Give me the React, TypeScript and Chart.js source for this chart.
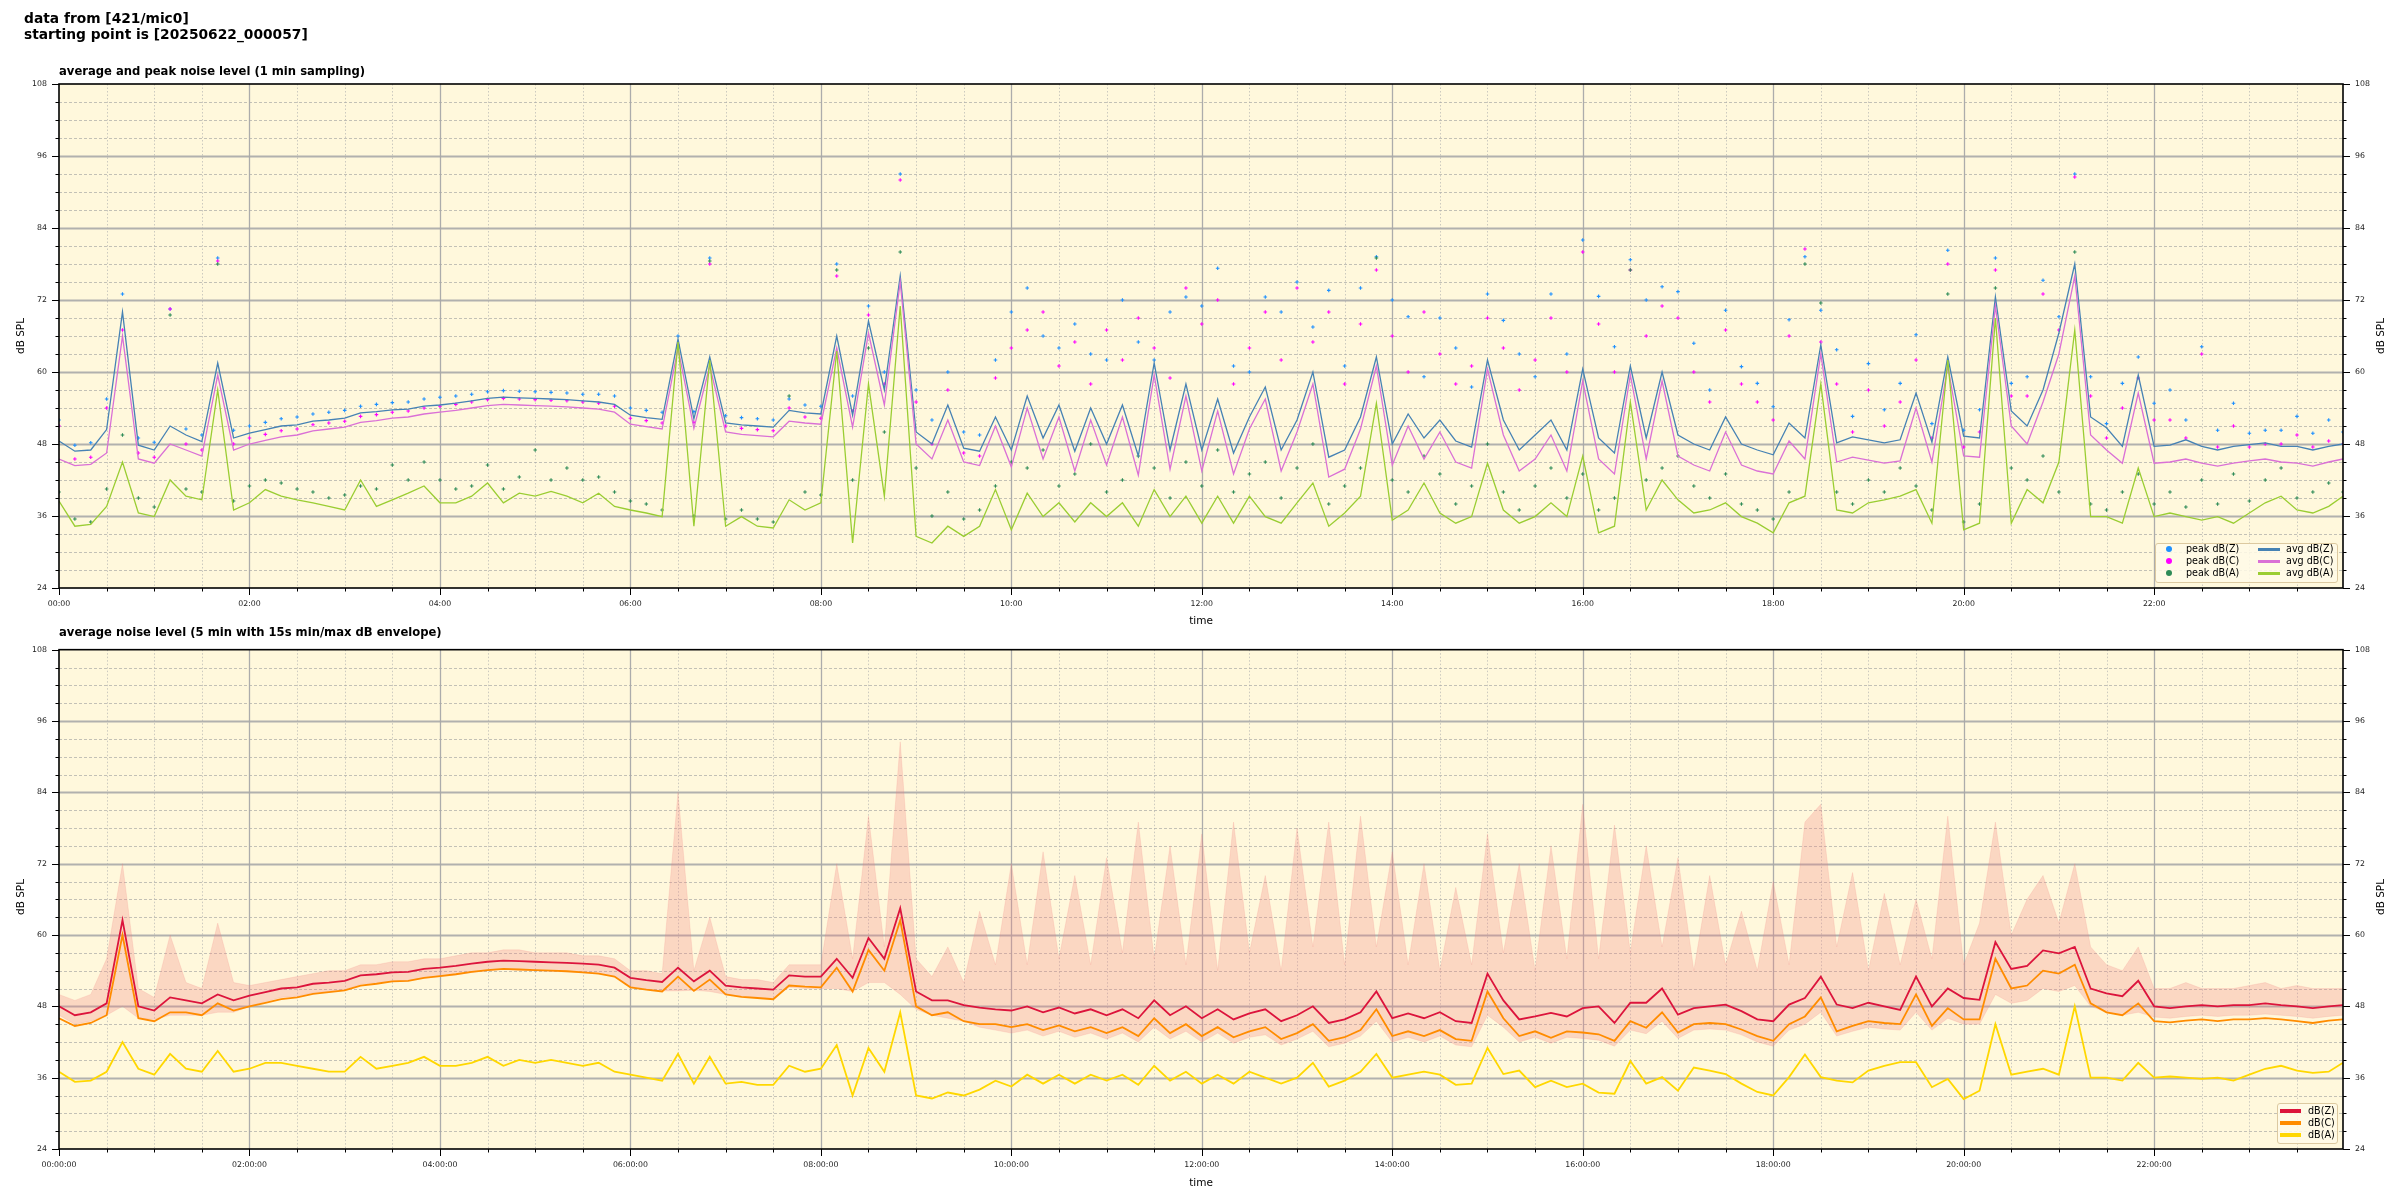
import React, { useEffect, useRef } from 'react';
import { Chart, registerables } from 'chart.js';

Chart.register(...registerables);
Chart.defaults.font.family = '"DejaVu Sans", sans-serif';

// ---------- sampling (10 min steps, last point 23:59) ----------
const STEP_MIN = 10;
const MINUTES = Array.from({ length: 145 }, (_, i) => Math.min(i * STEP_MIN, 1439));
const X_MAX = 1439;
const X_TICKS = Array.from({ length: 48 }, (_, i) => i * 30);
const Y_MIN = 24;
const Y_MAX = 108;
const Y_TICKS = Array.from({ length: 29 }, (_, i) => 24 + i * 3);

// ---------- top panel: 1 min averages (read at 10 min spacing) ----------
const AVG_Z = [
  48.5, 46.8, 47.0, 50.4, 70.0, 47.8, 47.0, 51.0, 49.5, 48.4,
  61.5, 49.0, 49.8, 50.4, 51.0, 51.2, 51.8, 52.0, 52.3, 53.2,
  53.4, 53.7, 53.8, 54.3, 54.5, 54.8, 55.2, 55.6, 55.8, 55.7,
  55.6, 55.5, 55.4, 55.2, 55.0, 54.6, 52.8, 52.4, 52.1, 65.5,
  52.2, 62.5, 51.5, 51.2, 51.0, 50.8, 53.6, 53.2, 53.0, 66.0,
  52.8, 68.5, 57.0, 76.0, 50.0, 48.0, 54.5, 47.3, 46.8, 52.5,
  47.0, 56.0, 49.0, 54.5, 46.8, 54.0, 48.0, 54.5, 46.0, 61.5,
  47.0, 58.0, 47.0, 55.5, 46.5, 52.5, 57.5, 47.0, 52.0, 60.0,
  45.8, 47.0, 52.5, 62.5, 48.0, 53.0, 49.0, 52.0, 48.5, 47.5,
  62.0, 52.0, 47.0, 49.5, 52.0, 47.0, 60.5, 49.0, 46.5, 61.0,
  49.0, 60.0, 49.5, 48.0, 47.0, 52.5, 48.0, 47.0, 46.2, 51.5,
  49.0, 64.5, 48.2, 49.2, 48.7, 48.2, 48.7, 56.5, 48.3, 62.5,
  49.3, 49.0, 72.5, 53.5, 51.0, 57.0, 66.5, 78.0, 52.5, 50.7,
  47.6, 59.5, 47.6, 47.8, 48.7, 47.6, 47.0, 47.6, 47.9, 48.2,
  47.6, 47.6, 47.0, 47.6, 48.0,
];
const AVG_C = [
  45.5, 44.4, 44.6, 46.5, 66.0, 45.5, 44.8, 48.0, 47.0, 46.0,
  59.5, 47.0, 48.0, 48.6, 49.2, 49.5, 50.2, 50.5, 50.8, 51.6,
  51.9, 52.3, 52.5, 53.0, 53.3, 53.6, 54.0, 54.4, 54.6, 54.5,
  54.4, 54.3, 54.2, 54.0, 53.8, 53.3, 51.3, 50.9, 50.5, 64.0,
  50.6, 61.0, 50.0, 49.6, 49.4, 49.2, 51.8, 51.5, 51.3, 64.0,
  50.8, 66.5, 54.5, 75.0, 48.0, 45.5, 52.0, 45.0, 44.4, 51.0,
  44.2, 54.0, 45.5, 52.5, 43.5, 52.0, 44.5, 52.5, 42.8, 59.5,
  43.8, 56.0, 43.5, 53.5, 43.0, 50.5, 55.5, 43.5, 50.0, 58.0,
  42.5, 43.8, 50.5, 61.0, 44.5, 51.0, 45.5, 50.0, 45.0, 44.0,
  60.5, 49.5, 43.5, 45.5, 49.5, 43.5, 58.5, 45.5, 43.0, 59.5,
  45.5, 58.5, 46.0, 44.5, 43.5, 50.0, 44.5, 43.5, 43.0, 48.5,
  45.5, 63.0, 45.0, 45.8, 45.3, 44.8, 45.2, 54.0, 45.0, 61.0,
  46.0, 45.8, 71.0, 51.0, 48.0, 55.0, 63.0, 76.0, 49.5, 47.0,
  44.8, 56.5, 44.8, 45.0, 45.5, 44.8, 44.3, 44.8, 45.2, 45.5,
  45.0, 44.8, 44.3, 45.0, 45.5,
];
const AVG_A = [
  38.5, 34.3, 34.6, 37.6, 45.0, 36.5, 35.9, 42.0, 39.3, 38.7,
  57.0, 37.0, 38.2, 40.4, 39.3, 38.7, 38.2, 37.6, 37.0, 42.0,
  37.6, 38.7, 39.8, 41.0, 38.2, 38.2, 39.3, 41.5, 38.2, 39.8,
  39.3, 40.1, 39.3, 38.2, 39.8, 37.6, 37.0, 36.5, 35.9, 65.0,
  34.3, 62.0, 34.3, 35.9, 34.3, 34.0, 38.7, 37.0, 38.2, 63.5,
  31.5, 58.0, 39.3, 71.0, 32.6, 31.5, 34.3, 32.6, 34.3, 40.4,
  33.7, 39.8, 35.9, 38.2, 35.0, 38.2, 35.9, 38.2, 34.3, 40.4,
  35.9, 39.3, 34.8, 39.3, 34.8, 39.3, 35.9, 34.8, 38.2, 41.5,
  34.3, 36.5, 39.3, 54.8, 35.3, 37.0, 41.5, 36.5, 34.8, 35.9,
  44.8, 37.0, 34.8, 35.9, 38.2, 35.9, 46.0, 33.2, 34.3, 55.0,
  37.0, 42.0, 38.7, 36.5, 37.0, 38.2, 35.9, 34.8, 33.2, 38.2,
  39.3, 58.0, 37.0, 36.5, 38.2, 38.7, 39.3, 40.4, 34.8, 62.0,
  33.7, 34.8, 69.0, 34.8, 40.4, 38.2, 45.0, 67.0, 35.9, 35.9,
  34.8, 44.0, 35.9, 36.5, 35.9, 35.3, 35.9, 34.8, 36.5, 38.2,
  39.3, 37.0, 36.5, 37.6, 39.3,
];
const PEAK_Z = [
  52.0, 47.8, 48.2, 55.5, 73.0, 49.0, 48.3, 70.5, 50.5, 49.5,
  79.0, 50.3, 51.0, 51.6, 52.2, 52.5, 53.0, 53.3, 53.6, 54.3,
  54.6, 54.9, 55.0, 55.5, 55.8, 56.0, 56.3, 56.7, 56.9, 56.8,
  56.7, 56.6, 56.5, 56.3, 56.3, 56.0, 54.0, 53.6, 53.3, 66.0,
  53.4, 79.0, 52.7, 52.4, 52.2, 52.0, 55.5, 54.5, 54.3, 78.0,
  56.0, 71.0, 60.0, 93.0, 57.0, 52.0, 60.0, 50.0, 49.5, 62.0,
  70.0, 74.0, 66.0, 64.0, 68.0, 63.0, 62.0, 72.0, 65.0, 62.0,
  70.0, 72.5, 71.0, 77.3, 61.0, 60.0, 72.5, 70.0, 75.0, 67.5,
  73.6, 61.0, 74.0, 79.2, 72.0, 69.2, 59.2, 69.0, 64.0, 57.5,
  73.0, 68.6, 63.0, 59.2, 73.0, 63.0, 82.0, 72.6, 64.2, 78.7,
  72.0, 74.2, 73.4, 64.8, 57.0, 70.3, 60.9, 58.1, 54.2, 68.7,
  79.2, 70.3, 63.7, 52.6, 61.4, 53.7, 58.1, 66.2, 51.4, 80.3,
  50.3, 53.7, 79.0, 58.1, 59.2, 75.3, 69.2, 93.0, 59.2, 51.4,
  58.1, 62.5, 54.8, 57.0, 52.0, 64.2, 50.3, 54.8, 49.8, 50.3,
  50.3, 52.6, 49.8, 52.0, 50.0,
];
const PEAK_C = [
  51.0, 45.5, 45.8, 54.0, 67.0, 46.5, 45.8, 70.5, 48.0, 47.0,
  78.5, 48.0, 49.0, 49.6, 50.2, 50.5, 51.2, 51.5, 51.8, 52.6,
  52.9, 53.3, 53.5, 54.0, 54.3, 54.6, 55.0, 55.4, 55.6, 55.5,
  55.4, 55.3, 55.2, 55.0, 54.8, 54.3, 52.3, 51.9, 51.5, 64.5,
  51.6, 78.0, 51.0, 50.6, 50.4, 50.2, 54.0, 52.5, 52.3, 76.0,
  53.5, 69.5, 58.0, 92.0, 55.0, 48.0, 57.0, 46.5, 46.0, 59.0,
  64.0, 67.0, 70.0, 61.0, 65.0, 58.0, 67.0, 62.0, 69.0, 64.0,
  59.0, 74.0, 68.0, 72.0, 58.0, 64.0, 70.0, 62.0, 74.0, 65.0,
  70.0, 58.0, 68.0, 77.0, 66.0, 60.0, 70.0, 63.0, 58.0, 61.0,
  69.0, 64.0, 57.0, 62.0, 69.0, 60.0, 80.0, 68.0, 60.0, 77.0,
  66.0, 71.0, 69.0, 60.0, 55.0, 67.0, 58.0, 55.0, 52.0, 66.0,
  80.5, 65.0, 58.0, 50.0, 57.0, 51.0, 55.0, 62.0, 49.0, 78.0,
  47.5, 50.0, 77.0, 56.0, 56.0, 73.0, 67.0, 92.5, 56.0, 49.0,
  54.0, 59.0, 52.0, 52.0, 49.0, 63.0, 47.5, 51.0, 47.5, 48.0,
  48.0, 49.5, 47.5, 48.5, 48.0,
];
const PEAK_A = [
  40.0, 35.5, 35.0, 40.5, 49.5, 39.0, 37.5, 69.5, 40.5, 40.0,
  78.0, 38.5, 41.0, 42.0, 41.5, 40.5, 40.0, 39.0, 39.5, 41.0,
  40.5, 44.5, 42.0, 45.0, 42.0, 40.5, 41.0, 44.5, 40.5, 42.5,
  47.0, 42.0, 44.0, 42.0, 42.5, 40.0, 38.5, 38.0, 37.0, 64.0,
  36.0, 78.5, 35.5, 37.0, 35.5, 35.0, 56.0, 40.0, 39.5, 77.0,
  42.0, 64.0, 50.0, 80.0, 44.0, 36.0, 40.0, 35.5, 37.0, 41.0,
  45.0, 44.0, 47.0, 41.0, 43.0, 48.0, 40.0, 42.0, 46.0, 44.0,
  39.0, 45.0, 41.0, 47.0, 40.0, 43.0, 45.0, 39.0, 44.0, 48.0,
  38.0, 41.0, 44.0, 79.0, 42.0, 40.0, 46.0, 43.0, 38.0, 41.0,
  48.0, 40.0, 37.0, 41.0, 44.0, 39.0, 43.0, 37.0, 39.0, 77.0,
  42.0, 44.0, 46.0, 41.0, 39.0, 43.0, 38.0, 37.0, 35.5, 40.0,
  78.0, 71.5, 40.0, 38.0, 42.0, 40.0, 44.0, 41.0, 37.0, 73.0,
  35.0, 38.0, 74.0, 44.0, 42.0, 46.0, 40.0, 80.0, 38.0, 37.0,
  40.0, 43.0, 38.0, 40.0, 37.5, 42.0, 38.0, 43.0, 38.5, 42.0,
  44.0, 39.0, 40.0, 41.5, 40.0,
];

// ---------- bottom panel: 5 min averages + 15 s min/max envelope ----------
const BOT_Z = [
  48.0, 46.5, 47.0, 48.5, 62.5, 48.0, 47.3, 49.5, 49.0, 48.5,
  50.0, 49.0, 49.8, 50.4, 51.0, 51.2, 51.8, 52.0, 52.3, 53.2,
  53.4, 53.7, 53.8, 54.3, 54.5, 54.8, 55.2, 55.5, 55.7, 55.6,
  55.5, 55.4, 55.3, 55.2, 55.0, 54.5, 52.8, 52.4, 52.1, 54.5,
  52.2, 54.0, 51.5, 51.2, 51.0, 50.8, 53.2, 53.0, 53.0, 56.0,
  52.8, 59.5, 56.0, 64.5, 50.5, 49.0, 49.0, 48.2, 47.8, 47.5,
  47.3, 48.0, 47.0, 47.8, 46.8, 47.5, 46.5, 47.5, 46.0, 49.0,
  46.5, 48.0, 46.0, 47.5, 45.8, 46.8, 47.5, 45.5, 46.5, 48.0,
  45.2, 45.8, 47.0, 50.5, 46.0, 46.8, 46.0, 47.0, 45.5, 45.2,
  53.5, 49.0, 45.8, 46.3, 46.9, 46.3, 47.7, 48.0, 45.2, 48.6,
  48.6, 51.0, 46.6, 47.7, 48.0, 48.3, 47.2, 45.8, 45.5, 48.3,
  49.4, 53.0, 48.3, 47.7, 48.6, 48.0, 47.4, 53.0, 48.0, 51.0,
  49.4, 49.1, 58.8, 54.3, 54.8, 57.4, 56.9, 58.0, 51.0, 50.2,
  49.7, 52.3, 48.0, 47.7, 48.0, 48.2, 48.0, 48.2, 48.2, 48.5,
  48.2, 48.0, 47.7, 48.0, 48.2,
];
const BOT_C = [
  46.0, 44.7, 45.2, 46.5, 60.0, 46.0, 45.5, 47.0, 47.0, 46.5,
  48.5, 47.3, 48.0, 48.6, 49.2, 49.5, 50.1, 50.4, 50.7, 51.5,
  51.8, 52.2, 52.3, 52.8, 53.1, 53.4, 53.8, 54.1, 54.3, 54.2,
  54.1, 54.0, 53.9, 53.7, 53.5, 53.0, 51.2, 50.8, 50.5, 53.0,
  50.6, 52.5, 50.0, 49.6, 49.4, 49.2, 51.5, 51.3, 51.2, 54.5,
  50.5, 57.5, 54.0, 62.5, 48.0, 46.5, 47.0, 45.5, 45.0, 45.0,
  44.5, 45.0, 44.0, 44.8, 43.8, 44.5, 43.5, 44.5, 43.0, 46.0,
  43.5, 45.0, 43.0, 44.5, 42.8, 43.8, 44.5, 42.5, 43.5, 45.0,
  42.2, 42.8, 44.0, 47.5, 43.0, 43.8, 43.0, 44.0, 42.5, 42.2,
  50.5, 46.0, 43.0, 43.8, 42.7, 43.8, 43.6, 43.3, 42.2, 45.5,
  44.4, 47.0, 43.6, 45.0, 45.2, 45.0, 44.1, 43.0, 42.2, 45.0,
  46.3, 49.5, 43.8, 44.7, 45.5, 45.2, 45.0, 50.0, 44.7, 47.7,
  45.8, 45.8, 56.0, 51.0, 51.5, 54.0, 53.5, 55.0, 48.5, 47.0,
  46.5, 48.5, 45.5, 45.3, 45.6, 45.8, 45.5, 45.8, 45.8, 46.0,
  45.8, 45.5, 45.2, 45.6, 45.8,
];
const BOT_A = [
  37.0, 35.3, 35.5, 37.0, 42.0, 37.5, 36.5, 40.0, 37.5, 37.0,
  40.5, 37.0, 37.5, 38.5, 38.5, 38.0, 37.5, 37.0, 37.0, 39.5,
  37.5, 38.0, 38.5, 39.5, 38.0, 38.0, 38.5, 39.5, 38.0, 39.0,
  38.5, 39.0, 38.5, 38.0, 38.5, 37.0, 36.5, 36.0, 35.5, 40.0,
  35.0, 39.5, 35.0, 35.3, 34.8, 34.8, 38.0, 37.0, 37.5, 41.5,
  33.0, 41.0, 37.0, 47.0, 33.0, 32.5, 33.5, 33.0, 34.0, 35.5,
  34.5, 36.5, 35.0, 36.5, 35.0, 36.5, 35.5, 36.5, 34.8, 38.0,
  35.5, 37.0, 35.0, 36.5, 35.0, 37.0, 36.0, 35.0, 36.0, 38.5,
  34.5, 35.5, 37.0, 40.0, 36.0, 36.5, 37.0, 36.5, 34.8, 35.0,
  41.0, 36.6, 37.2, 34.4, 35.5, 34.4, 35.0, 33.5, 33.3, 38.8,
  35.0, 36.1, 33.8, 37.7, 37.2, 36.6, 35.0, 33.6, 33.0, 36.1,
  39.9, 36.1, 35.5, 35.2, 37.2, 38.0, 38.6, 38.6, 34.4, 35.8,
  32.4, 33.8, 45.0, 36.5, 37.0, 37.5, 36.5, 48.0, 36.0, 36.0,
  35.5, 38.5, 36.0, 36.2, 36.0, 35.8, 36.0, 35.5, 36.5, 37.5,
  38.0, 37.2, 36.8, 37.0, 38.5,
];
const ENV_MAX = [
  50, 49, 50, 56, 72, 51, 49.5, 60, 52, 51,
  62, 52, 51.5, 52, 52.5, 53, 53.5, 54, 54, 55,
  55, 55.5, 55.5, 56, 56, 56.5, 57, 57, 57.5, 57.5,
  57, 57, 57, 56.5, 56.5, 56, 54, 54, 53.5, 84,
  54, 63, 53, 52.5, 52.5, 52, 55, 55, 55, 72,
  56, 80, 58, 92.5, 56, 53, 58, 52, 64, 55,
  72, 55, 74, 56, 70, 55, 73, 57, 79, 56,
  75, 55, 77, 54, 79, 57, 70, 54, 78, 58,
  79, 55, 80, 58, 74, 55, 72, 54, 68, 55,
  77, 57, 72, 54, 75, 56, 82, 56, 78.5, 57,
  75, 58, 73, 54, 70, 55, 64, 54, 69, 55,
  79, 82, 58, 70.5, 54, 67, 55, 66, 56, 80,
  55, 62, 79, 60, 66, 70, 62, 72, 58, 55,
  54, 58, 51, 51, 52, 51, 51, 51, 51.5, 52,
  51, 51.5, 51, 51, 51,
];
const ENV_MIN = [
  46.5, 45, 45.5, 46.5, 48, 46, 45.8, 46.5, 46.5, 46.5,
  47, 47, 48, 48.8, 49.5, 49.7, 50.3, 50.5, 50.8, 51.7,
  52, 52.2, 52.3, 52.8, 53, 53.3, 53.7, 54, 54.2, 54.1,
  54, 53.9, 53.8, 53.7, 53.5, 53, 51.3, 50.9, 50.6, 50.6,
  50.7, 50.5, 50, 49.7, 49.5, 49.3, 51.2, 51, 51, 51,
  50.5, 52, 52, 50, 47.5, 46.5, 46, 45.5, 44.5, 44,
  43.5, 44, 43, 43.8, 42.8, 43.5, 42.5, 43.5, 42, 44.5,
  42.5, 43.8, 42, 43.5, 41.8, 42.8, 43.2, 41.5, 42.5, 43.8,
  41.2, 41.8, 43, 45.5, 42, 42.8, 42, 43, 41.5, 41.2,
  46.5, 44.5, 42, 42.8, 41.8, 42.8, 42.6, 42.3, 41.3, 44,
  43.4, 45.5, 42.6, 44, 44.2, 44, 43.2, 42, 41.3, 44,
  45, 47, 43, 43.8, 44.5, 44.2, 44, 47, 44, 46,
  45, 45, 50, 48.5, 49, 51, 50.5, 51.5, 48, 47,
  46.5, 47, 46.2, 46, 46.3, 46.5, 46.3, 46.5, 46.5, 46.7,
  46.5, 46.3, 46, 46.3, 46.5,
];

// ---------- styling ----------
const PLOT_BG = '#fff8dc';
const COL = {
  avgZ: '#4682b4', avgC: '#da70d6', avgA: '#9acd32',
  pkZ: '#1e90ff', pkC: '#ff00ff', pkA: '#2e8b57',
  z: '#dc143c', c: '#ff8c00', a: '#ffd700', env: 'rgba(240,128,128,0.28)',
};
const FONT = '"DejaVu Sans", sans-serif';

const pts = (arr: number[]) => arr.map((y, i) => ({ x: MINUTES[i], y }));
const hh = (v: number) => String(Math.floor(v / 60)).padStart(2, '0');

const decor = {
  id: 'decor',
  beforeDraw(chart: any) {
    const { ctx, chartArea: a } = chart;
    const xs = chart.scales.x;
    const ys = chart.scales.y;
    ctx.save();
    ctx.fillStyle = PLOT_BG;
    ctx.fillRect(a.left, a.top, a.right - a.left, a.bottom - a.top);
    for (const v of Y_TICKS) {
      const py = Math.round(ys.getPixelForValue(v)) + 0.5;
      if (py <= a.top + 1 || py >= a.bottom - 1) continue;
      const major = v % 12 === 0;
      ctx.beginPath();
      ctx.setLineDash(major ? [] : [3, 2]);
      ctx.lineWidth = major ? 1.8 : 0.8;
      ctx.strokeStyle = major ? 'rgba(168,168,168,0.9)' : 'rgba(160,160,160,0.8)';
      ctx.moveTo(a.left, py);
      ctx.lineTo(a.right, py);
      ctx.stroke();
    }
    for (const v of X_TICKS) {
      const px = Math.round(xs.getPixelForValue(v)) + 0.5;
      if (px <= a.left + 1) continue;
      const major = v % 120 === 0;
      ctx.beginPath();
      ctx.setLineDash(major ? [] : [1.5, 2]);
      ctx.lineWidth = major ? 1.3 : 0.8;
      ctx.strokeStyle = major ? 'rgba(168,168,168,0.95)' : 'rgba(175,175,175,0.8)';
      ctx.moveTo(px, a.top);
      ctx.lineTo(px, a.bottom);
      ctx.stroke();
    }
    ctx.restore();
  },
  afterDraw(chart: any) {
    const { ctx, chartArea: a } = chart;
    const xs = chart.scales.x;
    const ys = chart.scales.y;
    ctx.save();
    ctx.setLineDash([]);
    ctx.strokeStyle = '#000';
    ctx.lineWidth = 1;
    ctx.beginPath();
    for (const v of Y_TICKS) {
      const py = Math.round(ys.getPixelForValue(v)) + 0.5;
      const len = v % 12 === 0 ? 7 : 3.5;
      ctx.moveTo(a.left - len, py);
      ctx.lineTo(a.left, py);
      ctx.moveTo(a.right, py);
      ctx.lineTo(a.right + len, py);
    }
    for (const v of X_TICKS) {
      const px = Math.round(xs.getPixelForValue(v)) + 0.5;
      const len = v % 120 === 0 ? 7 : 3.5;
      ctx.moveTo(px, a.bottom);
      ctx.lineTo(px, a.bottom + len);
    }
    ctx.stroke();
    ctx.lineWidth = 1.6;
    ctx.strokeRect(a.left, a.top, a.right - a.left, a.bottom - a.top);
    ctx.restore();
  },
};

const gridCfg = { display: true, drawOnChartArea: false, drawTicks: true, tickLength: 7, color: 'rgba(0,0,0,0)' };
const tickFont = { family: FONT, size: 7.8 };

function yAxis(position: string, width: number) {
  return {
    type: 'linear', axis: 'y', position, min: Y_MIN, max: Y_MAX,
    afterBuildTicks: (s: any) => { s.ticks = Y_TICKS.map((value) => ({ value })); },
    afterFit: (s: any) => { s.width = width; },
    ticks: { autoSkip: false, padding: 5, color: '#222', font: tickFont, callback: (v: any) => (v % 12 === 0 ? String(v) : '') },
    grid: gridCfg,
    border: { display: false },
  };
}

function xAxis(height: number, fmt: (v: number) => string) {
  return {
    type: 'linear', min: 0, max: X_MAX,
    afterBuildTicks: (s: any) => { s.ticks = X_TICKS.map((value) => ({ value })); },
    afterFit: (s: any) => { s.height = height; },
    ticks: { autoSkip: false, maxRotation: 0, minRotation: 0, padding: 4, color: '#222', font: tickFont, callback: (v: any) => (v % 120 === 0 ? fmt(v) : '') },
    grid: gridCfg,
    border: { display: false },
  };
}

function baseOptions(padTop: number, xHeight: number, fmt: (v: number) => string) {
  return {
    responsive: true,
    maintainAspectRatio: false,
    animation: false,
    devicePixelRatio: 1,
    events: [],
    layout: { padding: { top: padTop, left: 0, right: 0, bottom: 0 } },
    plugins: { legend: { display: false }, tooltip: { enabled: false }, title: { display: false } },
    scales: { x: xAxis(xHeight, fmt), y: yAxis('left', 59), y2: yAxis('right', 57) },
  };
}

const lineDs = (label: string, arr: number[], color: string, width: number) => ({
  label, data: pts(arr), borderColor: color, backgroundColor: color, borderWidth: width,
  pointRadius: 0, tension: 0, fill: false, yAxisID: 'y',
});
const peakDs = (label: string, arr: number[], color: string) => ({
  label, data: pts(arr), showLine: false, borderColor: color, backgroundColor: color,
  pointStyle: 'cross', pointRadius: 1.8, pointBorderWidth: 1.1, pointBorderColor: color, yAxisID: 'y',
});

function Txt(props: any) {
  const { x, y, size, bold, children, center, rotate } = props;
  const tf = rotate ? 'translate(-50%,-50%) rotate(-90deg)' : center ? 'translate(-50%,-50%)' : 'translateY(-50%)';
  return (
    <div style={{ position: 'absolute', left: x, top: y, transform: tf, font: `${bold ? 'bold ' : ''}${size}px ${FONT}`, color: '#000', whiteSpace: 'pre', lineHeight: 1.2 }}>
      {children}
    </div>
  );
}

function LegendLine({ x1, x2, y, color, tx, text }: any) {
  return (
    <>
      <div style={{ position: 'absolute', left: x1, top: y - 1.75, width: x2 - x1, height: 3.5, background: color }} />
      <Txt x={tx} y={y} size={9.6}>{text}</Txt>
    </>
  );
}
function LegendDot({ cx, y, color, tx, text }: any) {
  return (
    <>
      <div style={{ position: 'absolute', left: cx - 3, top: y - 3, width: 6, height: 6, borderRadius: 3, background: color }} />
      <Txt x={tx} y={y} size={9.6}>{text}</Txt>
    </>
  );
}

const legendBox = { position: 'absolute', border: '1px solid #dcc9a0', borderRadius: 3, background: 'rgba(255,250,232,0.85)', boxSizing: 'border-box' } as any;

export default function App() {
  const topRef = useRef<HTMLCanvasElement>(null);
  const botRef = useRef<HTMLCanvasElement>(null);

  useEffect(() => {
    const top = new Chart(topRef.current as any, {
      type: 'line',
      data: {
        datasets: [
          lineDs('avg dB(A)', AVG_A, COL.avgA, 1.3),
          lineDs('avg dB(C)', AVG_C, COL.avgC, 1.3),
          lineDs('avg dB(Z)', AVG_Z, COL.avgZ, 1.3),
          peakDs('peak dB(A)', PEAK_A, COL.pkA),
          peakDs('peak dB(C)', PEAK_C, COL.pkC),
          peakDs('peak dB(Z)', PEAK_Z, COL.pkZ),
        ] as any,
      },
      options: baseOptions(84, 52, (v) => `${hh(v)}:00`) as any,
      plugins: [decor],
    });
    const bot = new Chart(botRef.current as any, {
      type: 'line',
      data: {
        datasets: [
          lineDs('dB(A)', BOT_A, COL.a, 1.8),
          lineDs('dB(C)', BOT_C, COL.c, 1.8),
          lineDs('dB(Z)', BOT_Z, COL.z, 1.8),
          { ...lineDs('min', ENV_MIN, COL.env, 0.6) },
          { ...lineDs('max', ENV_MAX, COL.env, 0.6), fill: '-1', backgroundColor: COL.env },
        ] as any,
      },
      options: baseOptions(5, 51, (v) => `${hh(v)}:00:00`) as any,
      plugins: [decor],
    });
    return () => {
      top.destroy();
      bot.destroy();
    };
  }, []);

  return (
    <div style={{ position: 'absolute', left: 0, top: 0, width: 2400, height: 1200, background: '#fff', overflow: 'hidden' }}>
      <div style={{ position: 'absolute', left: 0, top: 0, width: 2400, height: 640 }}>
        <canvas ref={topRef} />
      </div>
      <div style={{ position: 'absolute', left: 0, top: 640, width: 2400, height: 560 }}>
        <canvas ref={botRef} />
      </div>

      <div style={{ position: 'absolute', left: 24, top: 11, font: `bold 13.8px ${FONT}`, lineHeight: '15.5px', whiteSpace: 'pre' }}>
        {'data from [421/mic0]\nstarting point is [20250622_000057]'}
      </div>
      <Txt x={59} y={71.5} size={11.6} bold>average and peak noise level (1 min sampling)</Txt>
      <Txt x={59} y={633} size={11.6} bold>average noise level (5 min with 15s min/max dB envelope)</Txt>

      <Txt x={1201} y={620} size={10.5} center>time</Txt>
      <Txt x={1201} y={1182} size={10.5} center>time</Txt>
      <Txt x={20} y={336} size={10.5} rotate>dB SPL</Txt>
      <Txt x={2380} y={336} size={10.5} rotate>dB SPL</Txt>
      <Txt x={20} y={897} size={10.5} rotate>dB SPL</Txt>
      <Txt x={2380} y={897} size={10.5} rotate>dB SPL</Txt>

      <div style={{ ...legendBox, left: 2155, top: 543, width: 183, height: 40 }} />
      <LegendDot cx={2169} y={549.3} color={COL.pkZ} tx={2186} text="peak dB(Z)" />
      <LegendDot cx={2169} y={561.3} color={COL.pkC} tx={2186} text="peak dB(C)" />
      <LegendDot cx={2169} y={573.3} color={COL.pkA} tx={2186} text="peak dB(A)" />
      <LegendLine x1={2258} x2={2280} y={549.3} color={COL.avgZ} tx={2286} text="avg dB(Z)" />
      <LegendLine x1={2258} x2={2280} y={561.3} color={COL.avgC} tx={2286} text="avg dB(C)" />
      <LegendLine x1={2258} x2={2280} y={573.3} color={COL.avgA} tx={2286} text="avg dB(A)" />

      <div style={{ ...legendBox, left: 2277, top: 1103, width: 61, height: 41 }} />
      <LegendLine x1={2280} x2={2301} y={1111} color={COL.z} tx={2308} text="dB(Z)" />
      <LegendLine x1={2280} x2={2301} y={1123} color={COL.c} tx={2308} text="dB(C)" />
      <LegendLine x1={2280} x2={2301} y={1135} color={COL.a} tx={2308} text="dB(A)" />
    </div>
  );
}
